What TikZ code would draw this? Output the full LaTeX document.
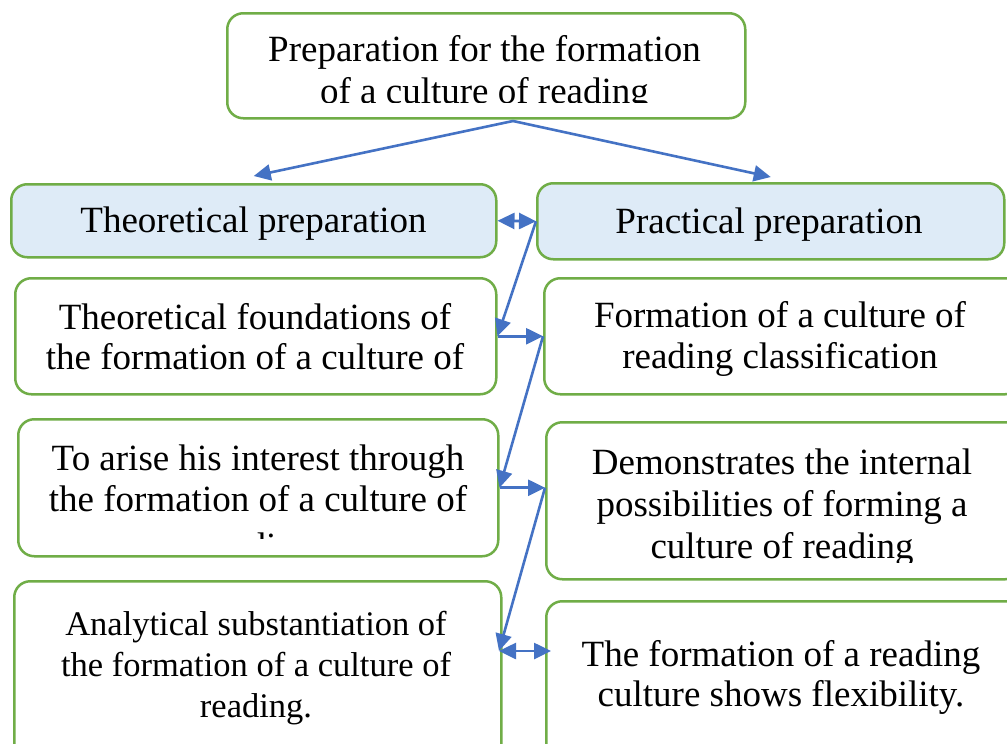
\documentclass[tikz,border=0pt]{standalone}
\usepackage{fontspec}
\setmainfont{Liberation Serif}
\usetikzlibrary{arrows.meta}
\definecolor{bgreen}{HTML}{70AD47}
\definecolor{ablue}{HTML}{4472C4}
\definecolor{hfill}{HTML}{DEEBF7}
\tikzset{
  box/.style={draw=bgreen, line width=2.5pt, rounded corners=16pt, fill=white, inner sep=0pt, anchor=north west},
  hdr/.style={box, fill=hfill},
  txt/.style={anchor=base, inner sep=0pt, font=\fontsize{37}{42}\selectfont},
  stxt/.style={txt, font=\fontsize{34.5}{40}\selectfont},
  tip/.tip={Triangle[length=17pt,width=16pt]},
  arr/.style={draw=ablue, line width=2.6pt, -tip},
  darr/.style={draw=ablue, line width=2.6pt, tip-tip},
}
\begin{document}
\begin{tikzpicture}[x=1pt,y=-1pt]
\useasboundingbox (0,0) rectangle (1007,744);
\clip (0,0) rectangle (1007,744);
\fill[white] (0,0) rectangle (1007,744);

% boxes
\node[box, minimum width=518pt, minimum height=105pt] (top) at (226,12) {};
\node[hdr, minimum width=485pt, minimum height=73pt] (thp) at (10,183) {};
\node[hdr, minimum width=467pt, minimum height=76pt] (prp) at (536,182) {};
\node[box, minimum width=481pt, minimum height=116pt] (tf) at (14,277) {};
\node[box, minimum width=477pt, minimum height=116pt] (fc) at (543,277) {};
\node[box, minimum width=480pt, minimum height=137pt] (ta) at (17,418) {};
\node[box, minimum width=475pt, minimum height=157pt] (dm) at (545,421) {};
\node[box, minimum width=487pt, minimum height=180pt] (an) at (13,580) {};
\node[box, minimum width=475pt, minimum height=160pt] (tfr) at (545,600) {};

% texts (clipped as in text boxes)
\begin{scope}
  \clip (top.north west) rectangle ([yshift=17pt]top.south east);
  \node[txt] (top1) at (484.5,61) {Preparation for the formation};
  \node[txt] (top2) at (484.5,103) {of a culture of reading};
\end{scope}
\node[txt] (thpt) at (253.5,232) {Theoretical preparation};
\node[txt] (prpt) at (769,233) {Practical preparation};
\begin{scope}
  \clip (tf.north west) rectangle ([yshift=17pt]tf.south east);
  \node[txt] (tf1) at (255,329) {Theoretical foundations of};
  \node[txt] (tf2) at (255,369.5) {the formation of a culture of};
\end{scope}
\begin{scope}
  \clip (fc.north west) rectangle ([yshift=17pt]fc.south east);
  \node[txt] (fc1) at (780,327) {Formation of a culture of};
  \node[txt] (fc2) at (780,368) {reading classification};
\end{scope}
\begin{scope}
  \clip (ta.north west) rectangle ([yshift=19pt]ta.south east);
  \node[txt] (ta1) at (258,470.5) {To arise his interest through};
  \node[txt] (ta2) at (258,511.5) {the formation of a culture of};
  \node[txt] (ta3) at (258,558) {reading};
\end{scope}
\begin{scope}
  \clip (dm.north west) rectangle ([yshift=18pt]dm.south east);
  \node[txt] (dm1) at (782,474) {Demonstrates the internal};
  \node[txt] (dm2) at (782,516.5) {possibilities of forming a};
  \node[txt] (dm3) at (782,558) {culture of reading};
\end{scope}
\node[stxt] (an1) at (256,635) {Analytical substantiation of};
\node[stxt] (an2) at (256,676) {the formation of a culture of};
\node[stxt] (an3) at (256,717) {reading.};
\node[txt] (tfr1) at (781,666.5) {The formation of a reading};
\node[txt] (tfr2) at (781,706.5) {culture shows flexibility.};

% connectors
\coordinate (s) at (513,121);
\draw[arr] (s) -- ([yshift=7pt]thp.north);
\draw[arr] (s) -- ([yshift=5pt]prp.north);
\draw[darr] (thp.east) -- (prp.west);
\draw[arr] (prp.west) -- (tf.east);
\draw[arr] (tf.east) -- (fc.west);
\draw[arr] (fc.west) -- (ta.east);
\coordinate (dmL) at (ta.east -| dm.west);
\draw[arr] (ta.east) -- (dmL);
\coordinate (anR) at (499,651);
\coordinate (tfrL) at (551,651);
\draw[arr] (dmL) -- (anR);
\draw[darr] (anR) -- (tfrL);
\end{tikzpicture}
\end{document}
